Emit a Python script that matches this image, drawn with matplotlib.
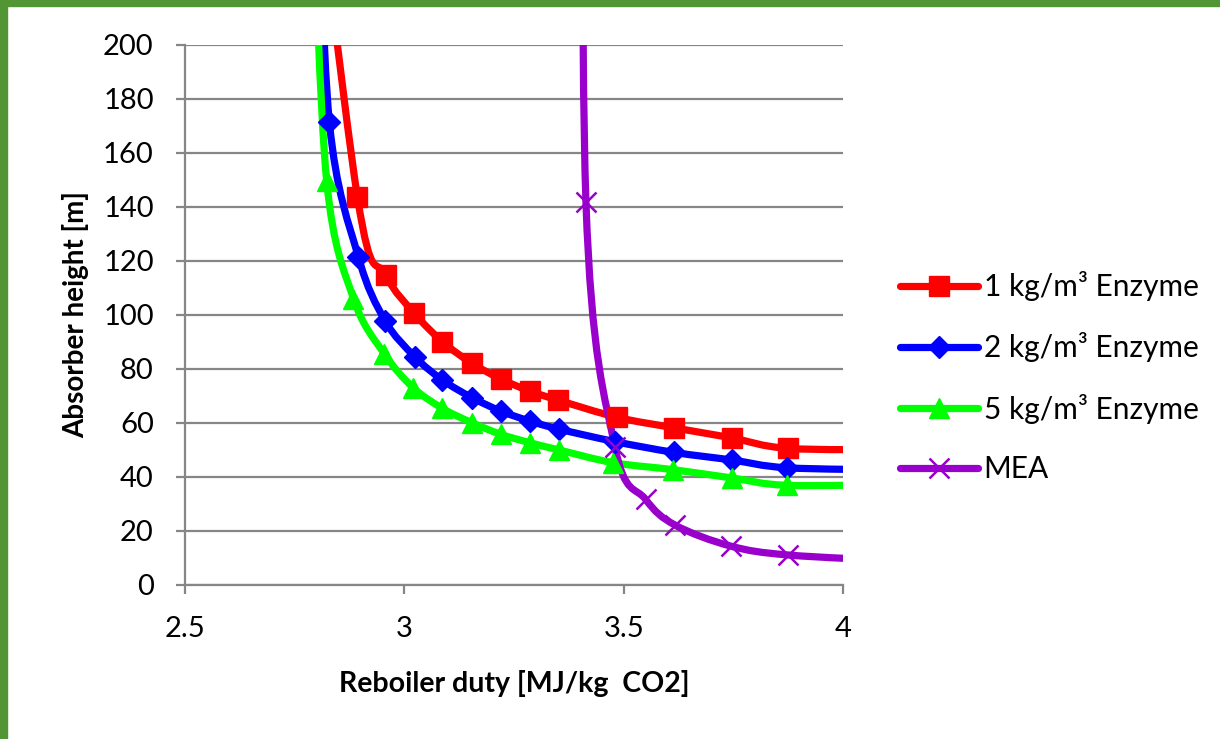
import numpy as np
import matplotlib
matplotlib.use("Agg")
import matplotlib.pyplot as plt
from matplotlib.path import Path
from matplotlib.patches import PathPatch, Rectangle
from matplotlib.lines import Line2D

# ---- data (first/last entries lie outside the visible range) ----
x_e1 = [2.76, 2.893, 2.958, 3.023, 3.087, 3.154, 3.220, 3.286, 3.350, 3.485, 3.615, 3.746, 3.874, 4.13]
y_e1 = [320, 143.7, 114.7, 100.5, 90.0, 82.0, 76.2, 71.7, 68.4, 62.0, 58.1, 54.4, 50.5, 50.0]

x_e2 = [2.80, 2.829, 2.895, 2.956, 3.024, 3.087, 3.154, 3.220, 3.286, 3.353, 3.480, 3.615, 3.746, 3.873, 4.13]
y_e2 = [280, 171.5, 121.5, 97.8, 84.4, 75.8, 69.3, 64.3, 60.6, 57.6, 53.0, 49.0, 46.2, 43.3, 42.5]

x_e5 = [2.79, 2.823, 2.884, 2.954, 3.020, 3.087, 3.154, 3.220, 3.286, 3.353, 3.476, 3.613, 3.748, 3.873, 4.13]
y_e5 = [260, 149.5, 106.0, 85.6, 73.0, 65.3, 60.0, 55.7, 52.6, 49.9, 45.2, 42.6, 39.5, 36.8, 37.2]

x_mea = [3.405, 3.414, 3.480, 3.550, 3.617, 3.744, 3.875, 4.13]
y_mea = [400, 141.9, 51.1, 31.6, 22.1, 14.3, 11.0, 8.8]

labels = ["1 kg/m\u00b3 Enzyme", "2 kg/m\u00b3 Enzyme", "5 kg/m\u00b3 Enzyme", "MEA"]
x_ticks = [2.5, 3, 3.5, 4]
x_tick_labels = ["2.5", "3", "3.5", "4"]
y_ticks = list(range(0, 201, 20))

FONT = "Lato"
plt.rcParams["font.family"] = [FONT, "DejaVu Sans"]

fig = plt.figure(figsize=(12.2, 7.39), dpi=100)
ax = fig.add_axes([185 / 1220, 1 - 584.7 / 739, (843 - 185) / 1220, (584.7 - 44.7) / 739])

# green border
border = "#519534"
fig.patches.append(Rectangle((0, 1 - 5.5 / 739), 1, 5.5 / 739, transform=fig.transFigure,
                             color=border, zorder=0))
fig.patches.append(Rectangle((0, 0), 6.8 / 1220, 1, transform=fig.transFigure,
                             color=border, zorder=0))


def smooth_path(xs, ys):
    P = np.column_stack([xs, ys]).astype(float)
    n = len(P)
    verts = [P[0]]
    codes = [Path.MOVETO]
    for i in range(n - 1):
        p0 = P[i - 1] if i > 0 else P[i]
        p3 = P[i + 2] if i + 2 < n else P[i + 1]
        c1 = P[i] + (P[i + 1] - p0) / 6.0
        c2 = P[i + 1] - (p3 - P[i]) / 6.0
        verts += [c1, c2, P[i + 1]]
        codes += [Path.CURVE4] * 3
    return Path(verts, codes)


series = [
    (x_e1, y_e1, "#ff0000", "s", 14, None),
    (x_e2, y_e2, "#0000ff", "D", 11, None),
    (x_e5, y_e5, "#00ff00", "^", 14, None),
    (x_mea, y_mea, "#9900cc", "x", 15, 1.8),
]

handles = []
for (xs, ys, col, mk, ms, mew), lab in zip(series, labels):
    patch = PathPatch(smooth_path(xs, ys), facecolor="none", edgecolor=col, lw=5.2,
                      capstyle="round", joinstyle="round", zorder=3)
    ax.add_patch(patch)
    kw = dict(markeredgewidth=mew) if mew else dict(markeredgecolor=col)
    ax.plot(xs, ys, linestyle="none", marker=mk, markersize=ms, color=col, zorder=4, **kw)
    handles.append(Line2D([], [], color=col, lw=5.2, marker=mk, markersize=ms,
                          solid_capstyle="round", **kw))

ax.set_xlim(2.5, 4)
ax.set_ylim(0, 200)
ax.set_xticks(x_ticks)
ax.set_xticklabels(x_tick_labels)
ax.set_yticks(y_ticks)

grey = "#868686"
ax.yaxis.grid(True, color=grey, lw=1.6)
ax.set_axisbelow(True)
for s in ["top", "right"]:
    ax.spines[s].set_visible(False)
for s in ["left", "bottom"]:
    ax.spines[s].set_color(grey)
    ax.spines[s].set_linewidth(1.6)
ax.tick_params(axis="both", direction="out", length=6.5, width=1.6, color=grey,
               labelsize=21, labelcolor="black")
ax.tick_params(axis="y", pad=16)
ax.tick_params(axis="x", pad=16)

ax.set_xlabel("Reboiler duty [MJ/kg  CO2]", fontsize=20.5, fontweight="bold", labelpad=20)
ax.set_ylabel("Absorber height [m]", fontsize=20, fontweight="bold", labelpad=10)

fig.legend(handles=handles, labels=labels, loc="center left",
           bbox_to_anchor=(900 / 1220, 1 - 377 / 739), frameon=False, fontsize=21.5,
           handlelength=2.6, handletextpad=0.2, labelspacing=1.05, borderpad=0,
           borderaxespad=0)

fig.savefig("out.png", dpi=100)
